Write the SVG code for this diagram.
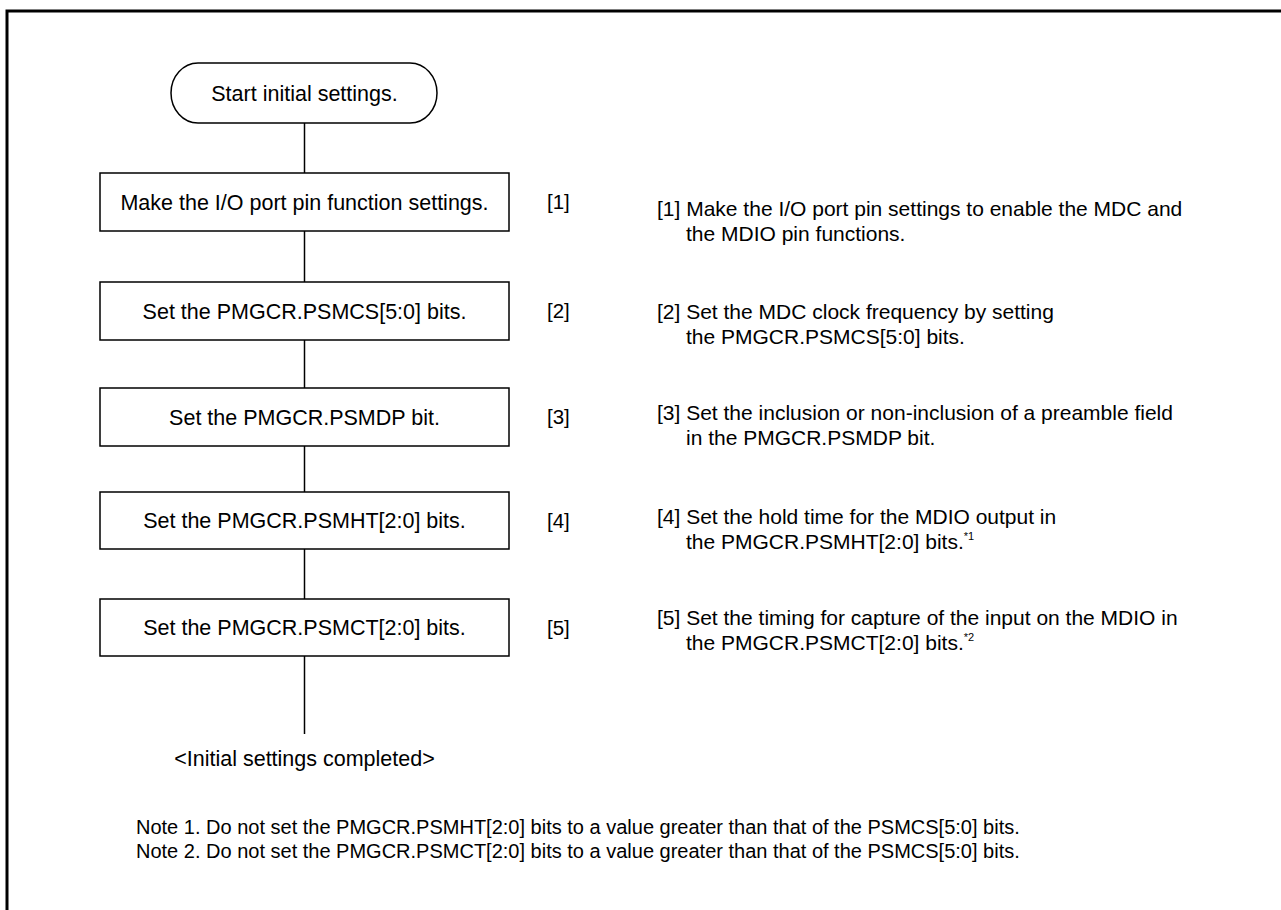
<svg xmlns="http://www.w3.org/2000/svg" width="1281" height="910" viewBox="0 0 1281 910">
<style>
.shape{fill:#fff;stroke:#000;stroke-width:1.5}
.conn{stroke:#000;stroke-width:1.5;fill:none}
.t{font-family:"Liberation Sans",Arial,sans-serif;fill:#000}
.box{font-size:21.5px;text-anchor:middle}
.lbl{font-size:20.5px}
.desc{font-size:21px}
.sup{font-size:11px}
.note{font-size:20px}
</style>
<rect x="0" y="0" width="1281" height="910" fill="#fff"/>
<path d="M7,910 V11 H1281" fill="none" stroke="#000" stroke-width="3"/>
<g id="connectors">
<line class="conn" x1="304.5" y1="123" x2="304.5" y2="173"/>
<line class="conn" x1="304.5" y1="231" x2="304.5" y2="282"/>
<line class="conn" x1="304.5" y1="340" x2="304.5" y2="388"/>
<line class="conn" x1="304.5" y1="446" x2="304.5" y2="492"/>
<line class="conn" x1="304.5" y1="549" x2="304.5" y2="599"/>
<line class="conn" x1="304.5" y1="656" x2="304.5" y2="734"/>
</g>
<g id="start">
<rect class="shape" x="171" y="63" width="266" height="60" rx="27" ry="30"/>
<text class="t box" x="304.5" y="100.5">Start initial settings.</text>
</g>
<g id="step1">
<rect class="shape" x="100" y="173" width="409" height="58"/>
<text class="t box" x="304.5" y="209.5">Make the I/O port pin function settings.</text>
<text class="t lbl" x="547" y="209">[1]</text>
</g>
<g id="step2">
<rect class="shape" x="100" y="282" width="409" height="58"/>
<text class="t box" x="304.5" y="318.5">Set the PMGCR.PSMCS[5:0] bits.</text>
<text class="t lbl" x="547" y="318">[2]</text>
</g>
<g id="step3">
<rect class="shape" x="100" y="388" width="409" height="58"/>
<text class="t box" x="304.5" y="424.5">Set the PMGCR.PSMDP bit.</text>
<text class="t lbl" x="547" y="424">[3]</text>
</g>
<g id="step4">
<rect class="shape" x="100" y="492" width="409" height="57"/>
<text class="t box" x="304.5" y="528">Set the PMGCR.PSMHT[2:0] bits.</text>
<text class="t lbl" x="547" y="528">[4]</text>
</g>
<g id="step5">
<rect class="shape" x="100" y="599" width="409" height="57"/>
<text class="t box" x="304.5" y="635">Set the PMGCR.PSMCT[2:0] bits.</text>
<text class="t lbl" x="547" y="635">[5]</text>
</g>
<g id="end">
<text class="t box" x="304.5" y="766">&lt;Initial settings completed&gt;</text>
</g>
<g id="descriptions">
<text class="t desc" x="657" y="216">[1] Make the I/O port pin settings to enable the MDC and</text>
<text class="t desc" x="686" y="241">the MDIO pin functions.</text>
<text class="t desc" x="657" y="319">[2] Set the MDC clock frequency by setting</text>
<text class="t desc" x="686" y="344">the PMGCR.PSMCS[5:0] bits.</text>
<text class="t desc" x="657" y="420">[3] Set the inclusion or non-inclusion of a preamble field</text>
<text class="t desc" x="686" y="445">in the PMGCR.PSMDP bit.</text>
<text class="t desc" x="657" y="524">[4] Set the hold time for the MDIO output in</text>
<text class="t desc" x="686" y="549">the PMGCR.PSMHT[2:0] bits.<tspan class="sup" dy="-9">*1</tspan></text>
<text class="t desc" x="657" y="625">[5] Set the timing for capture of the input on the MDIO in</text>
<text class="t desc" x="686" y="650">the PMGCR.PSMCT[2:0] bits.<tspan class="sup" dy="-9">*2</tspan></text>
</g>
<g id="notes">
<text class="t note" x="136" y="834">Note 1. Do not set the PMGCR.PSMHT[2:0] bits to a value greater than that of the PSMCS[5:0] bits.</text>
<text class="t note" x="136" y="858">Note 2. Do not set the PMGCR.PSMCT[2:0] bits to a value greater than that of the PSMCS[5:0] bits.</text>
</g>
</svg>
